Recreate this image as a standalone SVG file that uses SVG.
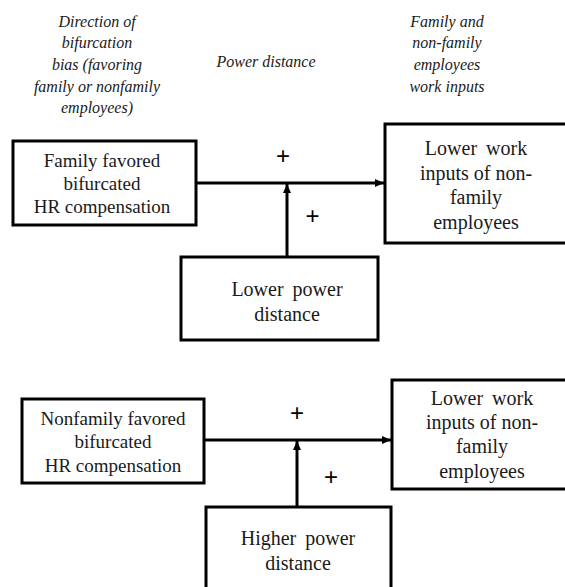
<svg xmlns="http://www.w3.org/2000/svg" width="565" height="587" viewBox="0 0 565 587">
  <defs>
    <marker id="arrow" markerWidth="10" markerHeight="10" refX="9" refY="5" orient="auto" markerUnits="userSpaceOnUse">
      <path d="M0,1 L9,5 L0,9 Z" fill="#000"/>
    </marker>
    <style>
      .box { fill: #fff; stroke: #000; stroke-width: 3; }
      .lbl { font-family: "Liberation Serif", "Times New Roman", serif; fill: #1a1a1a; text-anchor: middle; }
      .s19 { font-size: 19px; }
      .s20 { font-size: 20px; }
      .head { font-family: "Liberation Serif", "Times New Roman", serif; font-style: italic; font-size: 16px; fill: #1a1a1a; text-anchor: middle; }
      .sign { font-family: "Liberation Sans", Arial, sans-serif; font-size: 24px; fill: #000; text-anchor: middle; }
      .edge { stroke: #000; stroke-width: 3; fill: none; marker-end: url(#arrow); }
    </style>
  </defs>
  <rect width="565" height="587" fill="#fff"/>

  <!-- column headings -->
  <g id="heading-bias">
    <text class="head" x="97" y="27">Direction of</text>
    <text class="head" x="97" y="48">bifurcation</text>
    <text class="head" x="97" y="70">bias (favoring</text>
    <text class="head" x="97" y="92">family or nonfamily</text>
    <text class="head" x="97" y="113">employees)</text>
  </g>
  <g id="heading-power">
    <text class="head" x="266" y="67">Power distance</text>
  </g>
  <g id="heading-inputs">
    <text class="head" x="447" y="27">Family and</text>
    <text class="head" x="447" y="48">non-family</text>
    <text class="head" x="447" y="70">employees</text>
    <text class="head" x="447" y="92">work inputs</text>
  </g>

  <!-- upper model -->
  <g id="family-favored">
    <rect class="box" x="13" y="141" width="183" height="84"/>
    <text class="lbl s19" x="102" y="167">Family favored</text>
    <text class="lbl s19" x="102" y="190">bifurcated</text>
    <text class="lbl s19" x="102" y="213">HR compensation</text>
  </g>
  <g id="lower-inputs-1">
    <rect class="box" x="385" y="124" width="190" height="119"/>
    <text class="lbl s20" x="476" y="155" word-spacing="4">Lower work</text>
    <text class="lbl s20" x="476" y="180">inputs of non-</text>
    <text class="lbl s20" x="476" y="204">family</text>
    <text class="lbl s20" x="476" y="229">employees</text>
  </g>
  <g id="lower-power">
    <rect class="box" x="181" y="257" width="197" height="83"/>
    <text class="lbl s20" x="287" y="296" word-spacing="4">Lower power</text>
    <text class="lbl s20" x="287" y="321">distance</text>
  </g>

  <!-- lower model -->
  <g id="nonfamily-favored">
    <rect class="box" x="22" y="399" width="182" height="84"/>
    <text class="lbl s19" x="113" y="425">Nonfamily favored</text>
    <text class="lbl s19" x="113" y="448">bifurcated</text>
    <text class="lbl s19" x="113" y="472">HR compensation</text>
  </g>
  <g id="lower-inputs-2">
    <rect class="box" x="392" y="380" width="190" height="109"/>
    <text class="lbl s20" x="482" y="405" word-spacing="4">Lower work</text>
    <text class="lbl s20" x="482" y="429">inputs of non-</text>
    <text class="lbl s20" x="482" y="453">family</text>
    <text class="lbl s20" x="482" y="478">employees</text>
  </g>
  <g id="higher-power">
    <rect class="box" x="206" y="507" width="185" height="95"/>
    <text class="lbl s20" x="298" y="545" word-spacing="4">Higher power</text>
    <text class="lbl s20" x="298" y="570">distance</text>
  </g>

  <!-- connectors -->
  <g id="connectors">
    <line class="edge" x1="196" y1="183" x2="384" y2="183"/>
    <line class="edge" x1="287" y1="257" x2="287" y2="184"/>
    <line class="edge" x1="204" y1="440" x2="391" y2="440"/>
    <line class="edge" x1="297" y1="507" x2="297" y2="441"/>
    <text class="sign" x="283" y="163.5">+</text>
    <text class="sign" x="312.5" y="223.5">+</text>
    <text class="sign" x="297" y="420.5">+</text>
    <text class="sign" x="331" y="484.5">+</text>
  </g>
</svg>
